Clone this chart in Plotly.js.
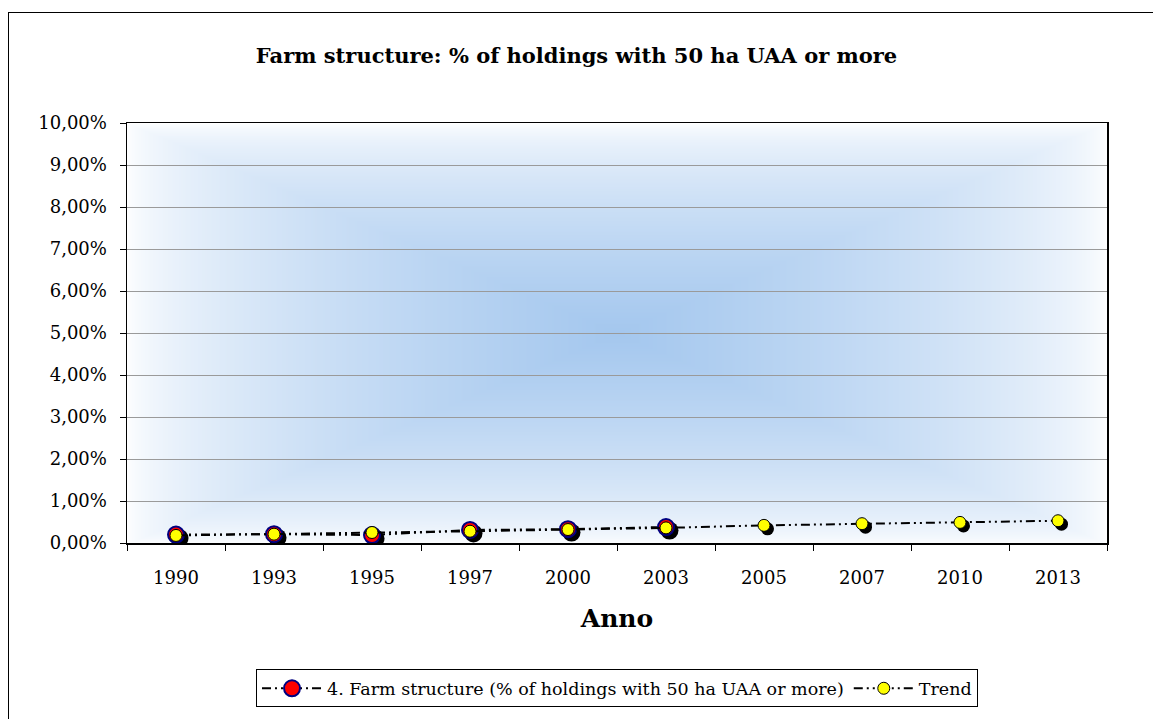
<!DOCTYPE html>
<html>
<head>
<meta charset="utf-8">
<script src="https://cdn.plot.ly/plotly-3.0.1.min.js"></script>
<style>
html,body{margin:0;padding:0;background:#fff;overflow:hidden;}
#chart{width:1153px;height:719px;position:absolute;left:0;top:0;}
#frame{position:absolute;left:8px;top:12px;width:1170px;height:730px;border:1.5px solid #000;pointer-events:none;}
</style>
</head>
<body>
<div id="chart"></div>
<div id="frame"></div>
<script>
// ---- data ----
const years = ["1990","1993","1995","1997","2000","2003","2005","2007","2010","2013"];
const farmYears = ["1990","1993","1995","1997","2000","2003"];
const farmValues = [0.0020, 0.0021, 0.0019, 0.0031, 0.0033, 0.0038];
const trendValues = [0.0018, 0.0021, 0.0025, 0.0028, 0.0032, 0.0036, 0.0042, 0.0046, 0.0049, 0.0053];
const seriesNames = ["4. Farm structure (% of holdings with 50 ha UAA or more)", "Trend"];
const chartTitle = "Farm structure: % of holdings with 50 ha UAA or more";
const xTitle = "Anno";

// ---- layout geometry ----
const W = 1153, H = 719;
const M = {l:127, r:46, t:123, b:174};
const pw = W - M.l - M.r, ph = H - M.t - M.b;
const shadowPx = 3.5;
const yMax = 0.1;
const sx = shadowPx / (pw / years.length);
const sy = shadowPx * yMax / ph;

// gradient background (rectangular from-center gradient)
function gradientURL(){
  const c = document.createElement('canvas');
  c.width = pw; c.height = ph;
  const ctx = c.getContext('2d');
  const img = ctx.createImageData(pw, ph);
  const cx = pw/2, cy = ph/2;
  const center = [164, 199, 238];
  for (let y=0; y<ph; y++){
    for (let x=0; x<pw; x++){
      const t = Math.min(1, Math.max(Math.abs(x-cx)/cx, Math.abs(y-cy)/cy));
      const k = Math.pow(1 - t, 0.6);
      const i = (y*pw + x)*4;
      img.data[i]   = 255 + (center[0]-255)*k;
      img.data[i+1] = 255 + (center[1]-255)*k;
      img.data[i+2] = 255 + (center[2]-255)*k;
      img.data[i+3] = 255;
    }
  }
  ctx.putImageData(img, 0, 0);
  return c.toDataURL('image/png');
}

const font = "DejaVu Serif";
const dash = "9px,4px,2px,4px,2px,4px";

const traces = [
  // shadows (base subplot, shifted ranges)
  {x: farmYears, y: farmValues, xaxis:'x', yaxis:'y', mode:'markers', showlegend:false, hoverinfo:'skip',
   marker:{size:18, color:'#000'}},
  {x: years, y: trendValues, xaxis:'x', yaxis:'y', mode:'markers', showlegend:false, hoverinfo:'skip',
   marker:{size:13, color:'#000'}},
  // main series (overlay subplot, visible axes)
  {x: farmYears, y: farmValues, xaxis:'x2', yaxis:'y2', name: seriesNames[0], mode:'lines+markers',
   line:{color:'#000', width:2, dash:dash},
   marker:{size:16, color:'#ff0000', line:{color:'#000080', width:2}}},
  {x: years, y: trendValues, xaxis:'x2', yaxis:'y2', name: seriesNames[1], mode:'lines+markers',
   line:{color:'#000', width:2, dash:dash},
   marker:{size:12, color:'#ffff00', line:{color:'#000', width:1}}}
];

const layout = {
  width: W, height: H,
  margin: M,
  paper_bgcolor:'#fff',
  plot_bgcolor:'rgba(0,0,0,0)',
  separators: ',.',
  font:{family:font, color:'#000', size:16},
  title:{text:'<b>'+chartTitle+'</b>', font:{family:font, size:21, color:'#000'},
         x:0.5, xref:'container', xanchor:'center', y:1-56/H, yref:'container', yanchor:'middle'},
  xaxis:{type:'category', categoryorder:'array', categoryarray: years, visible:false,
         range:[-0.5 - sx, years.length-0.5 - sx], fixedrange:true},
  yaxis:{range:[sy, yMax + sy], visible:false, fixedrange:true},
  xaxis2:{type:'category', categoryorder:'array', categoryarray: years, overlaying:'x', range:[-0.5, years.length-0.5],
         showline:true, linecolor:'#000', linewidth:1.5, mirror:true,
         ticks:'outside', ticklen:6, tickcolor:'#000', tickwidth:1, tickson:'boundaries',
         ticklabelstandoff:18,
         showgrid:false, zeroline:false, fixedrange:true,
         tickfont:{family:font, size:18, color:'#000'},
         title:{text:'<b>'+xTitle+'</b>', font:{family:font, size:25, color:'#000'}, standoff:22}},
  yaxis2:{overlaying:'y', range:[0, yMax], dtick:0.01, tickformat:'.2%',
         showline:true, linecolor:'#000', linewidth:1.5, mirror:true,
         ticks:'outside', ticklen:6, tickcolor:'#000', tickwidth:1,
         ticklabelstandoff:9,
         showgrid:true, gridcolor:'#9a9a9a', gridwidth:1, zeroline:false, fixedrange:true,
         tickfont:{family:font, size:18, color:'#000'}},
  legend:{orientation:'h', x:0.5, xanchor:'center', xref:'paper', y:(ph - (672 - M.t))/ph, yanchor:'top',
          bordercolor:'#000', borderwidth:1, bgcolor:'#fff',
          font:{family:font, size:17.5, color:'#000'}, itemwidth:60, traceorder:'normal'},
  images:[{source: gradientURL(), xref:'paper', yref:'paper', x:0, y:1, sizex:1, sizey:1,
           sizing:'stretch', layer:'below', xanchor:'left', yanchor:'top'}]
};

Plotly.newPlot('chart', traces, layout, {displayModeBar:false, staticPlot:true});
</script>
</body>
</html>
